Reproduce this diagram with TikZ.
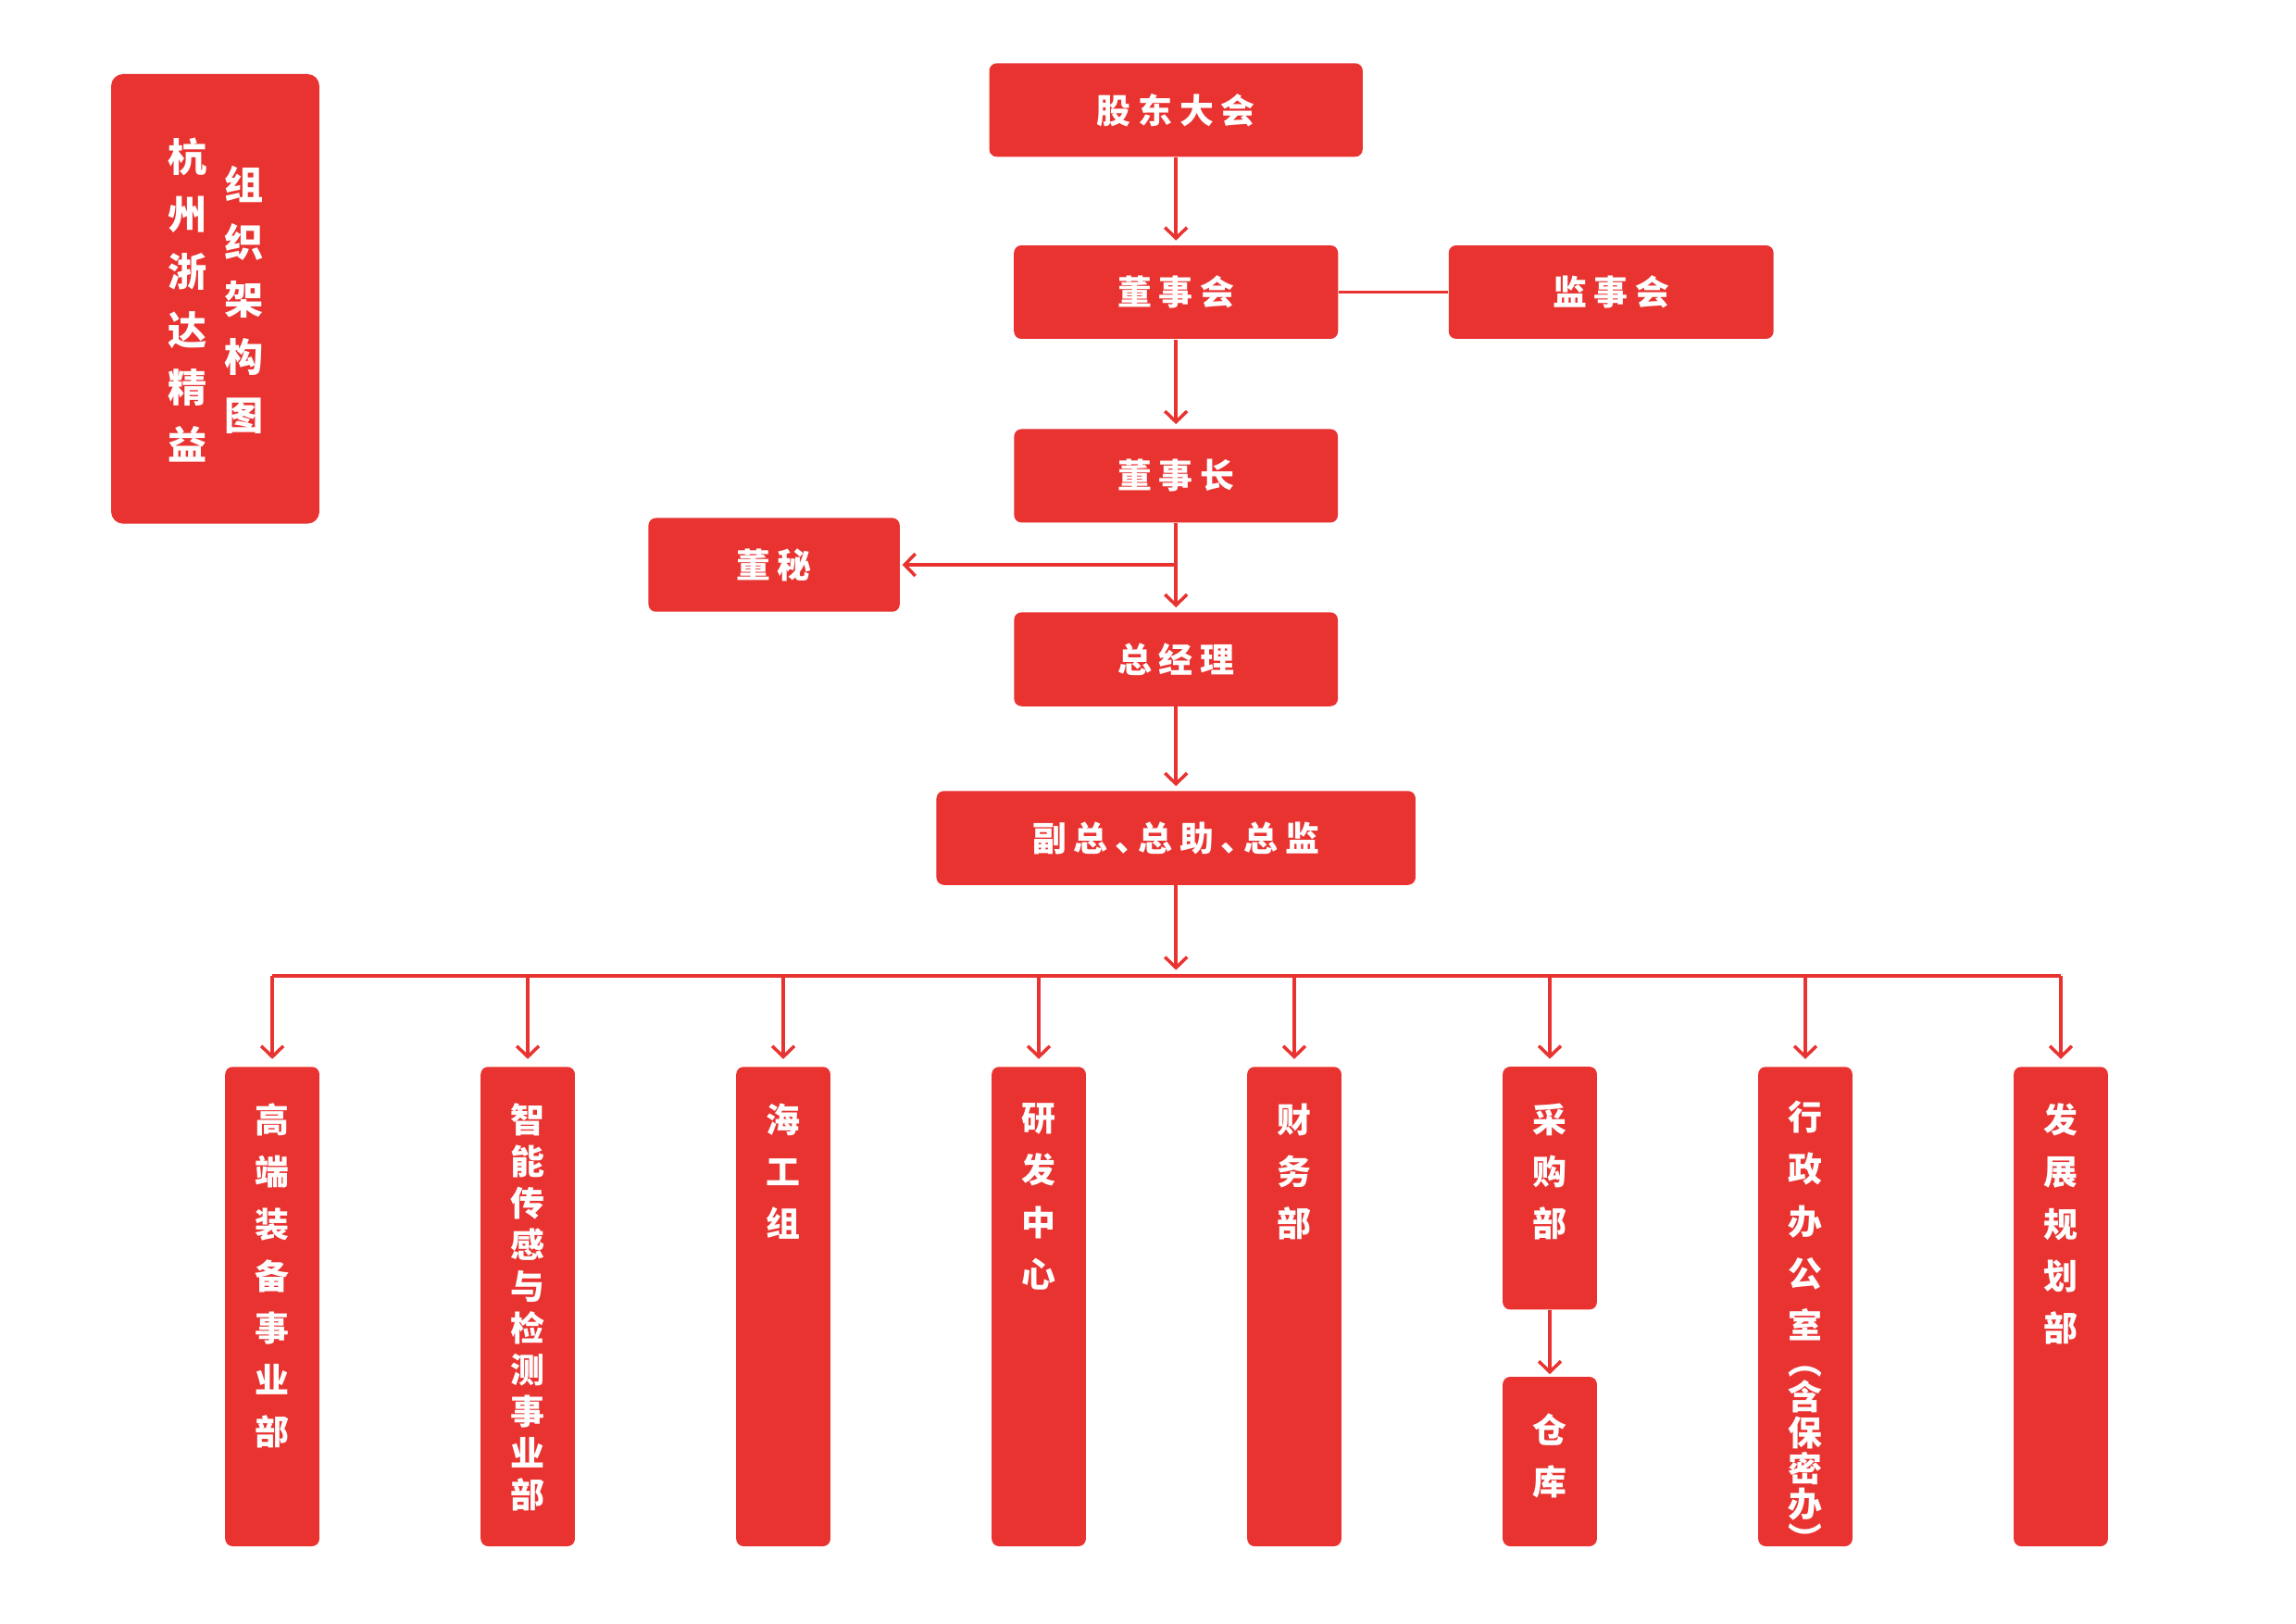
\documentclass[tikz,border=0pt]{standalone}
\usepackage{fontspec}
\setmainfont{Noto Sans CJK SC}
\usetikzlibrary{arrows.meta,calc}
\definecolor{zdred}{RGB}{232,51,49}
\def\pxu{0.0158974cm}
\newcommand{\lsp}{\kern2.2pt\relax}
\begin{document}
\begin{tikzpicture}[x=0.0158974cm, y=-0.0158974cm,
  box/.style={fill=zdred, draw=none, rounded corners=0.08cm, inner sep=0pt, text=white,
    font=\bfseries\fontsize{10.5}{12}\selectfont},
  bx/.style 2 args={minimum width=#1*\pxu, minimum height=#2*\pxu},
  vt/.style={text=white, inner sep=0pt, align=center, anchor=north,
    font=\bfseries\fontsize{10.5}{16}\selectfont},
  vtn/.style={text=white, inner sep=0pt, align=center, anchor=north,
    font=\bfseries\fontsize{10.5}{12.81}\selectfont},
  vtp/.style={text=white, inner sep=0pt, align=center, anchor=north,
    font=\bfseries\fontsize{10.5}{9.4}\selectfont},
  ttl/.style={text=white, inner sep=0pt, align=center, anchor=north,
    font=\bfseries\fontsize{12}{17.7}\selectfont},
  ln/.style={draw=zdred, line width=1pt},
  arr/.style={ln, -{Straight Barb[length=3.3pt,width=6.8pt]}, shorten >=1.3pt},
]
\useasboundingbox (0,0) rectangle (1560,1103.3);

% title
\node[box, bx={141.5}{305.5}, rounded corners=0.13cm] (title) at (146.25,203.05) {};
\node[ttl] (ttlL) at (127.4,93.3) {杭\\州\\浙\\达\\精\\益};
\node[ttl] (ttlR) at (166,112.2) {组\\织\\架\\构\\图};

% main chain
\node[box, bx={253.7}{63.5}] (gd) at (799,74.75) {股\lsp 东\lsp 大\lsp 会};
\node[box, bx={220.2}{63.5}] (dsh) at (799,198.45) {董\lsp 事\lsp 会};
\node[box, bx={220.7}{63.5}] (jsh) at (1094.65,198.45) {监\lsp 事\lsp 会};
\node[box, bx={220}{63.5}] (dsz) at (799,323.25) {董\lsp 事\lsp 长};
\node[box, bx={170.7}{63.7}] (dm) at (525.95,383.75) {董\lsp 秘};
\node[box, bx={220}{63.8}] (zjl) at (799,447.9) {总\lsp 经\lsp 理};
\node[box, bx={325.5}{63.8}] (fz) at (799,569.3) {副\lsp 总\lsp 、\kern-3.4pt 总\lsp 助\lsp 、\kern-3.4pt 总\lsp 监};

% bottom departments
\node[box, bx={64}{325.7}] (b1) at (185,887.65) {};
\node[box, bx={64}{325.7}] (b2) at (358.6,887.65) {};
\node[box, bx={64}{325.7}] (b3) at (532.2,887.65) {};
\node[box, bx={64}{325.7}] (b4) at (705.8,887.65) {};
\node[box, bx={64}{325.7}] (b5) at (879.4,887.65) {};
\node[box, bx={64}{165}] (b6) at (1053,807.2) {};
\node[box, bx={64}{115.1}] (b6b) at (1053,992.95) {};
\node[box, bx={64}{325.7}] (b7) at (1226.6,887.65) {};
\node[box, bx={64}{325.7}] (b8) at (1400.2,887.65) {};

\node[vt] (t1) at ($(b1.north)+(0,24.8)$) {高\\端\\装\\备\\事\\业\\部};
\node[vtn] (t2) at ($(b2.north)+(0,24.8)$) {智\\能\\传\\感\\与\\检\\测\\事\\业\\部};
\node[vt] (t3) at ($(b3.north)+(0,24.8)$) {海\\工\\组};
\node[vt] (t4) at ($(b4.north)+(0,24.8)$) {研\\发\\中\\心};
\node[vt] (t5) at ($(b5.north)+(0,24.8)$) {财\\务\\部};
\node[vt] (t6) at ($(b6.north)+(0,24.8)$) {采\\购\\部};
\node[vt] (t6b) at ($(b6b.north)+(0,24.8)$) {仓\\库};
\node[vt] (t7) at ($(b7.north)+(0,23.2)$) {行\\政\\办\\公\\室};
\node[vtp] (t7b) at (1226.6,928) {︵\\含\\保\\密\\办\\︶};
\node[vt] (t8) at ($(b8.north)+(0,24.8)$) {发\\展\\规\\划\\部};

% connectors
\draw[arr] (gd) -- (dsh);
\draw[ln] (dsh) -- (jsh);
\draw[arr] (dsh) -- (dsz);
\draw[arr] (dsz) -- (zjl);
\coordinate (br) at (dsz.south |- dm.east);
\draw[arr, shorten >=0.6pt] (br) -- (dm.east);
\draw[arr] (zjl) -- (fz);
\coordinate (bus) at (799,663);
\draw[arr, shorten >=1.8pt] (fz.south) -- (bus);
\draw[ln] (b1.north |- bus) -- (b8.north |- bus);
\foreach \b in {b1,b2,b3,b4,b5,b6,b7,b8}
  \draw[arr, shorten >=2.2pt] (\b.north |- bus) -- (\b.north);
\draw[arr, shorten >=0.6pt] (b6) -- (b6b);
\end{tikzpicture}
\end{document}
